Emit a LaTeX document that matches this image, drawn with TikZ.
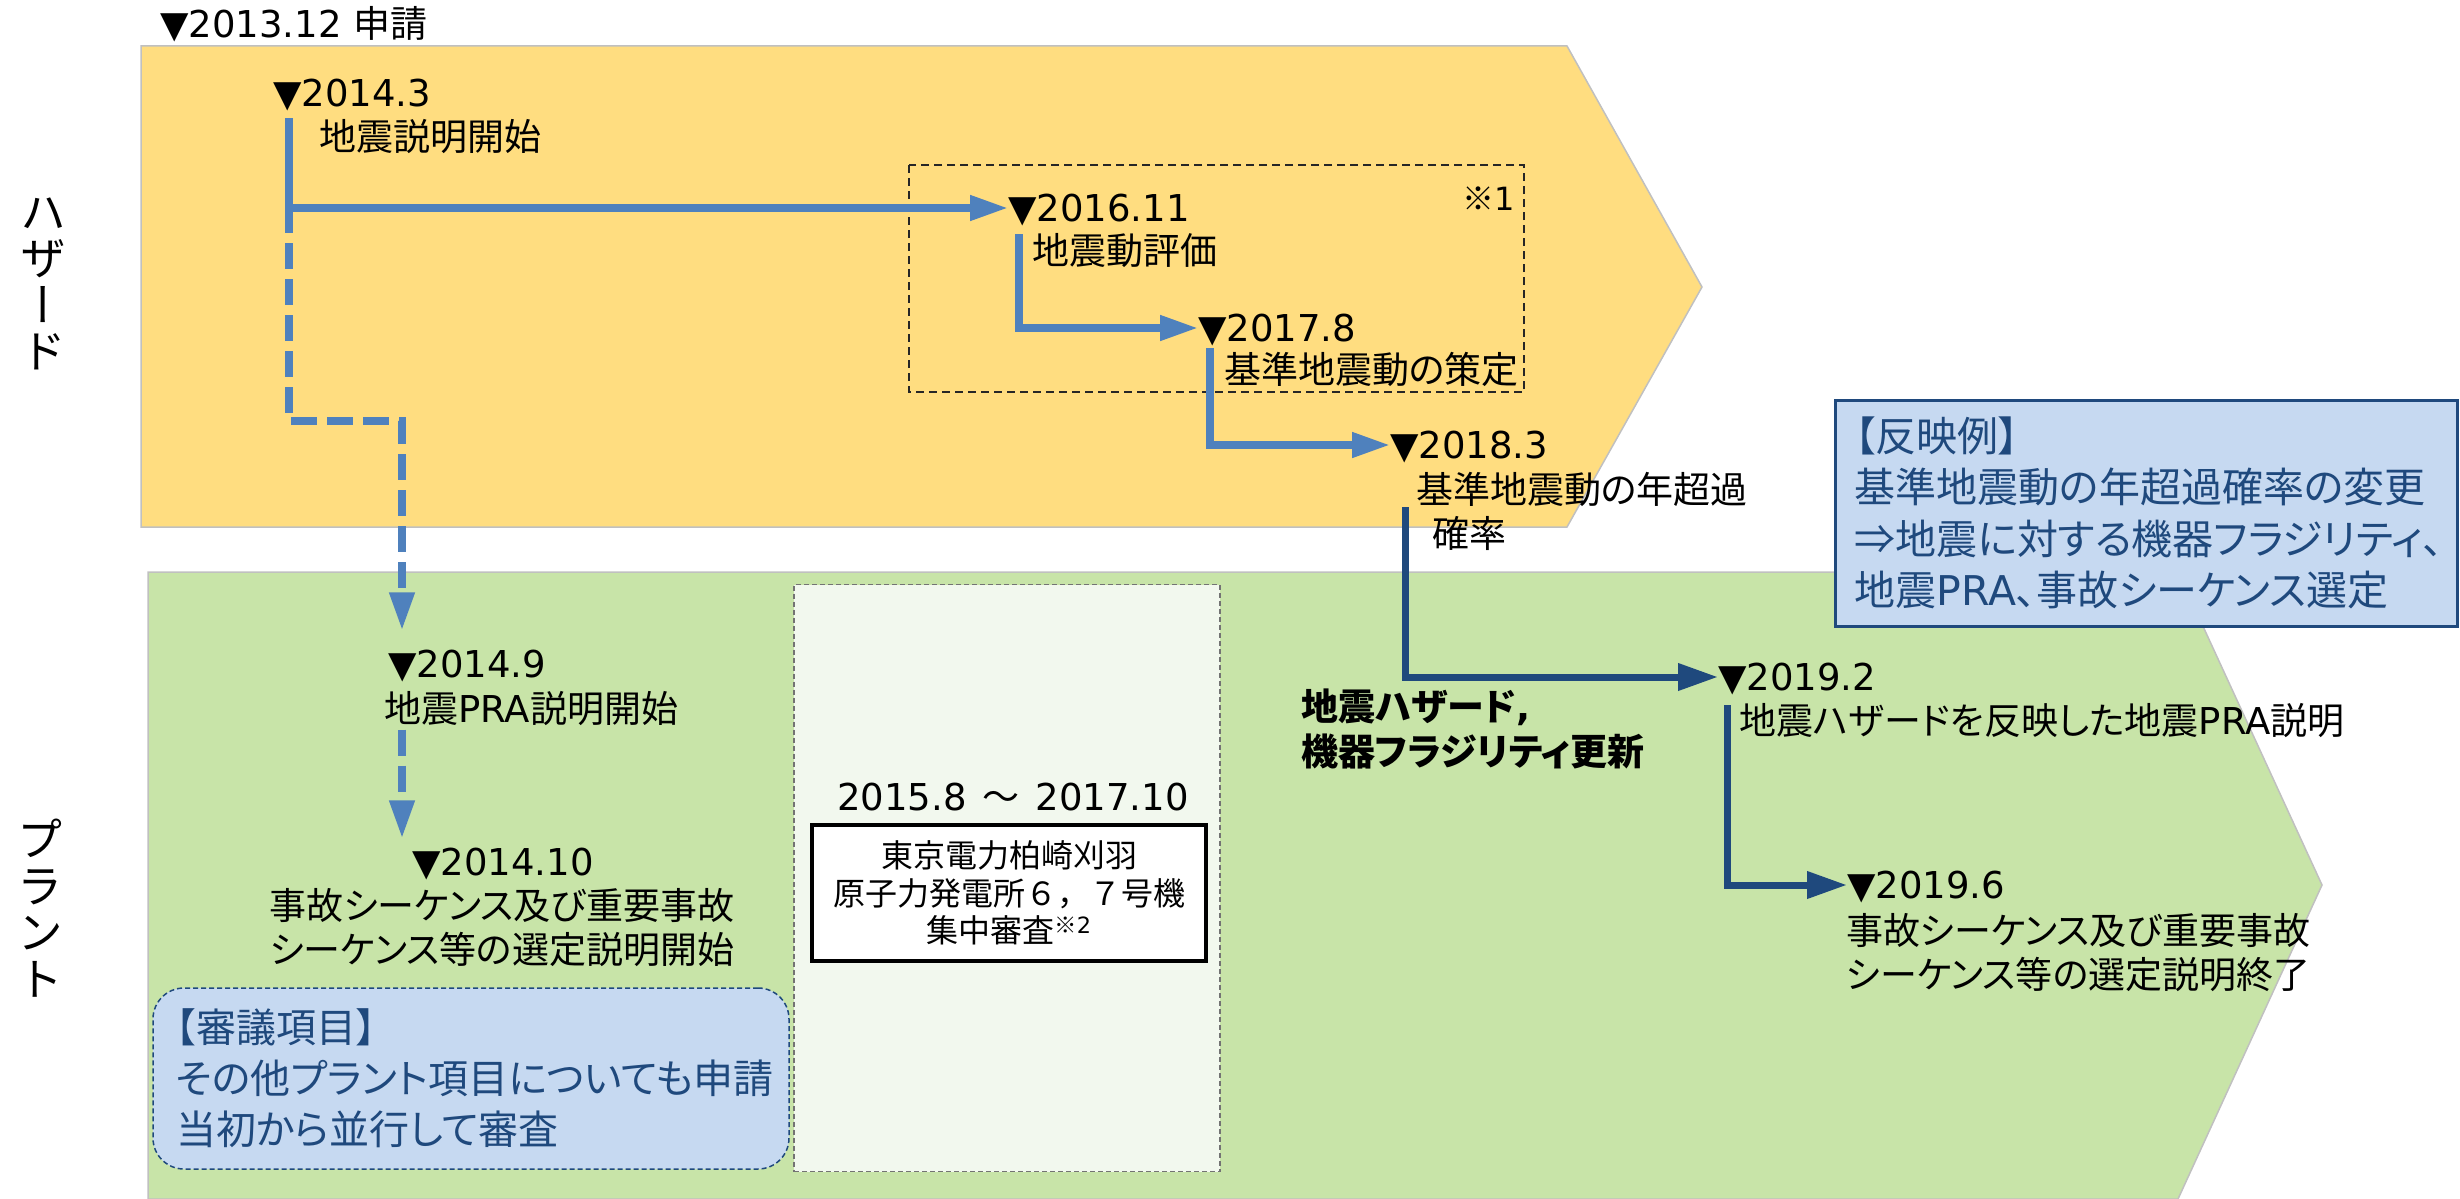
\documentclass[tikz,border=0pt]{standalone}
\usepackage{fontspec}
\setmainfont{Noto Sans CJK JP}[RawFeature={+palt}]
\newfontfamily\jpwide{Noto Sans CJK JP}
\newfontfamily\jpvert{Noto Sans CJK JP}[RawFeature={+vert}]
\newfontfamily\latfont{DejaVu Sans}
\newcommand{\lat}[1]{{\latfont #1}}
\usetikzlibrary{arrows.meta,positioning}
\definecolor{hazfill}{HTML}{FFDD80}
\definecolor{plantfill}{HTML}{C8E4A8}
\definecolor{bandedge}{HTML}{C0C0C0}
\definecolor{hazblue}{HTML}{4F81BD}
\definecolor{darkline}{HTML}{1F497D}
\definecolor{notefill}{HTML}{C6D9F1}
\definecolor{spanfill}{HTML}{F2F8EE}

\begin{document}
\begin{tikzpicture}[x=1pt,y=-1pt,
    date/.style={anchor=west,inner sep=0pt,text height=32pt,text depth=5pt,font=\fontsize{37}{44}\selectfont},
    desc/.style={anchor=west,inner sep=0pt,align=left,font=\fontsize{37}{44}\selectfont},
    side/.style={inner sep=0pt,align=center,font=\jpvert\fontsize{46}{46.5}\selectfont},
    hazline/.style={hazblue,line width=7.5pt},
    hazarrow/.style={hazline,-{Triangle[length=38pt,width=24pt]}},
    hazdash/.style={hazarrow,dash pattern=on 26pt off 10pt},
    plantarrow/.style={darkline,line width=7pt,-{Triangle[length=40pt,width=26pt]}},
    grpframe/.style={black!85,line width=1.5pt,dash pattern=on 8pt off 5pt},
    spanbox/.style={draw=black!55,fill=spanfill,line width=1.5pt,dash pattern=on 5pt off 3pt,inner sep=0pt},
    plantbox/.style={draw=black,fill=white,line width=4pt,inner sep=0pt,align=center,font=\fontsize{32}{37.5}\selectfont},
    notebox/.style={draw=darkline,fill=notefill,text=darkline,line width=3pt,align=left,inner ysep=0pt},
    itembox/.style={notebox,line width=1.5pt,dash pattern=on 5pt off 3pt,rounded corners=31pt}]
\useasboundingbox (0,0) rectangle (2460,1199);
\fill[hazfill,draw=bandedge,line width=1.5pt]
    (141,46) -- (1567,46) -- (1702,287) -- (1567,527) -- (141,527) -- cycle;
\fill[plantfill,draw=bandedge,line width=1.5pt]
    (148,572) -- (2178,572) -- (2322,885) -- (2178,1199) -- (148,1199) -- cycle;
\draw[grpframe] (909,165) rectangle (1524,392);
\node[spanbox,minimum width=426pt,minimum height=587pt] (span) at (1007,878) {};
\node[itembox,minimum height=181pt,text width=590pt,inner xsep=23pt,
    font=\fontsize{40}{51}\selectfont] (items) at (471,1078.5)
    {【審議項目】\\その他プラント項目についても申請\\当初から並行して審査};

\node[side] (hz) at (43,284) {ハ\\ザ\\ー\\ド};
\node[side] (pl) at (40,908) {プ\\ラ\\ン\\ト};

\node[date] (d201312) at (160,24) {\lat{▼2013.12 }申請};
\node[date] (d20143) at (273,93) {\lat{▼2014.3}};
\node[date] (t20143) at (319,137) {地震説明開始};
\node[date] (d201611) at (1008,208) {\lat{▼2016.11}};
\node[date,anchor=east,font=\fontsize{32}{38}\selectfont] (note1) at (1515,197) {※\lat{1}};
\node[date] (t201611) at (1032,251) {地震動評価};
\node[date] (d20178) at (1198,328) {\lat{▼2017.8}};
\node[date] (t20178) at (1224,370) {基準地震動の策定};
\node[date] (d20183) at (1390,445) {\lat{▼2018.3}};
\node[desc] (t20183) at (1416,511) {基準地震動の年超過\\\hspace*{16pt}確率};

\node[date] (d20149) at (388,664) {\lat{▼2014.9}};
\node[date] (t20149) at (384,709) {地震\lat{PRA}説明開始};
\node[date] (d201410) at (412,862) {\lat{▼2014.10}};
\node[desc,anchor=center,align=center] (t201410) at (502,928)
    {事故シーケンス及び重要事故\\シーケンス等の選定説明開始};
\node[date,anchor=center] (period) at (1013,797) {\lat{2015.8}\hspace{16pt}～\hspace{16pt}\lat{2017.10}};
\node[plantbox,minimum width=394pt,minimum height=136pt] (kk) at (1009,893)
    {東京電力柏崎刈羽\\{\jpwide 原子力発電所６，７号機}\\集中審査\textsuperscript{※\lat{2}}};
\node[desc,font=\bfseries\fontsize{37}{45}\selectfont] (rev) at (1301,728.5) {地震ハザード\lat{,}\\機器フラジリティ更新};
\node[date] (d20192) at (1718,677) {\lat{▼2019.2}};
\node[date] (t20192) at (1739,721) {地震ハザードを反映した地震\lat{PRA}説明};
\node[date] (d20196) at (1847,885) {\lat{▼2019.6}};
\node[desc] (t20196) at (1846,953) {事故シーケンス及び重要事故\\シーケンス等の選定説明終了};

\coordinate (s1) at (289,118);
\coordinate (b1) at (289,233);
\coordinate (b2) at (402,421);
\coordinate (s2) at (1019,234);
\coordinate (s3) at (1210,348);
\coordinate (s4) at (1405,507);
\coordinate (s5) at (1727,705);
\draw[hazline] (s1) -- (b1);
\draw[hazarrow] (s1) |- (d201611.west);
\draw[hazdash,dash phase=26pt,shorten >=15pt] (b1) |- (b2) -- (b2 |- d20149.north);
\draw[hazdash,shorten <=2pt,shorten >=5pt] (t20149.south -| b2) -- (d201410.north -| b2);
\draw[hazarrow] (s2) |- (d20178.west);
\draw[hazarrow] (s3) |- (d20183.west);
\draw[plantarrow] (s4) |- (d20192.west);
\draw[plantarrow] (s5) |- (d20196.west);

\node[notebox,minimum height=226pt,text width=583pt,inner xsep=19.5pt,
    font=\fontsize{41}{51.5}\selectfont] (ex) at (2146,513)
    {【反映例】\\基準地震動の年超過確率の変更\\⇒地震に対する機器フラジリティ、\\地震\lat{PRA}、事故シーケンス選定};
\end{tikzpicture}
\end{document}
